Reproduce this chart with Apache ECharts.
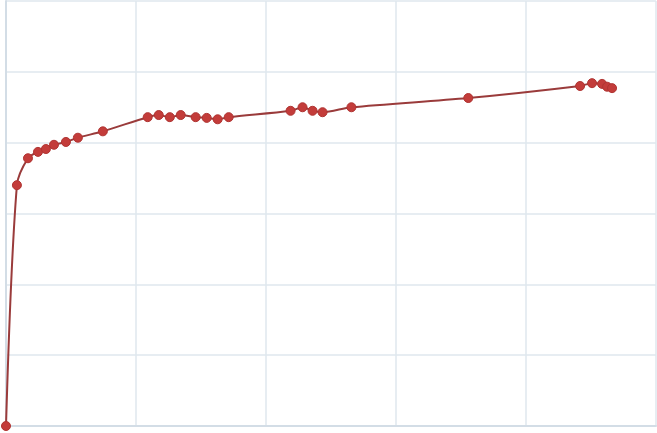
<!DOCTYPE html>
<html>
<head>
<meta charset="utf-8">
<script src="https://cdn.jsdelivr.net/npm/echarts@6/dist/echarts.min.js"></script>
<style>
  html, body { margin: 0; padding: 0; background: #fff; }
  #chart { width: 657px; height: 433px; }
</style>
</head>
<body>
<div id="chart"></div>
<script>
// values
const xValues = [0, 0.84, 1.69, 2.46, 3.07, 3.69, 4.61, 5.53, 7.45, 10.9, 11.75, 12.6, 13.44, 14.59,
  15.44, 16.28, 17.13, 21.89, 22.81, 23.58, 24.35, 26.57, 35.56, 44.16, 45.08, 45.85, 46.24, 46.62];
const yValues = [0, 34.0, 37.8, 38.7, 39.1, 39.7, 40.1, 40.7, 41.6, 43.6, 43.9, 43.6, 43.9, 43.6,
  43.5, 43.3, 43.6, 44.5, 45.0, 44.5, 44.3, 45.0, 46.3, 48.0, 48.4, 48.3, 47.9, 47.7];

const chart = echarts.init(document.getElementById('chart'));
const gridColor = '#dfe7ee';

chart.setOption({
  animation: false,
  backgroundColor: '#fff',
  grid: { left: 6, right: 1, top: 1, bottom: 7 },
  xAxis: {
    type: 'value',
    min: 0, max: 50, interval: 10,
    axisLine: { show: true, lineStyle: { color: '#d3dde6', width: 2 } },
    axisTick: { show: false },
    axisLabel: { show: false },
    splitLine: { show: true, lineStyle: { color: gridColor, width: 1.5 } },
  },
  yAxis: {
    type: 'value',
    min: 0, max: 60, interval: 10,
    axisLine: { show: true, lineStyle: { color: '#d3dde6', width: 2 } },
    axisTick: { show: false },
    axisLabel: { show: false },
    splitLine: { show: true, lineStyle: { color: gridColor, width: 1.5 } },
  },
  series: [{
    type: 'line',
    smooth: 0.3,
    data: xValues.map((x, i) => [x, yValues[i]]),
    symbol: 'circle',
    symbolSize: 9,
    lineStyle: { color: '#9a3b3b', width: 2 },
    itemStyle: { color: '#c33c3a', borderColor: '#b03432', borderWidth: 1 },
  }],
});
</script>
</body>
</html>
